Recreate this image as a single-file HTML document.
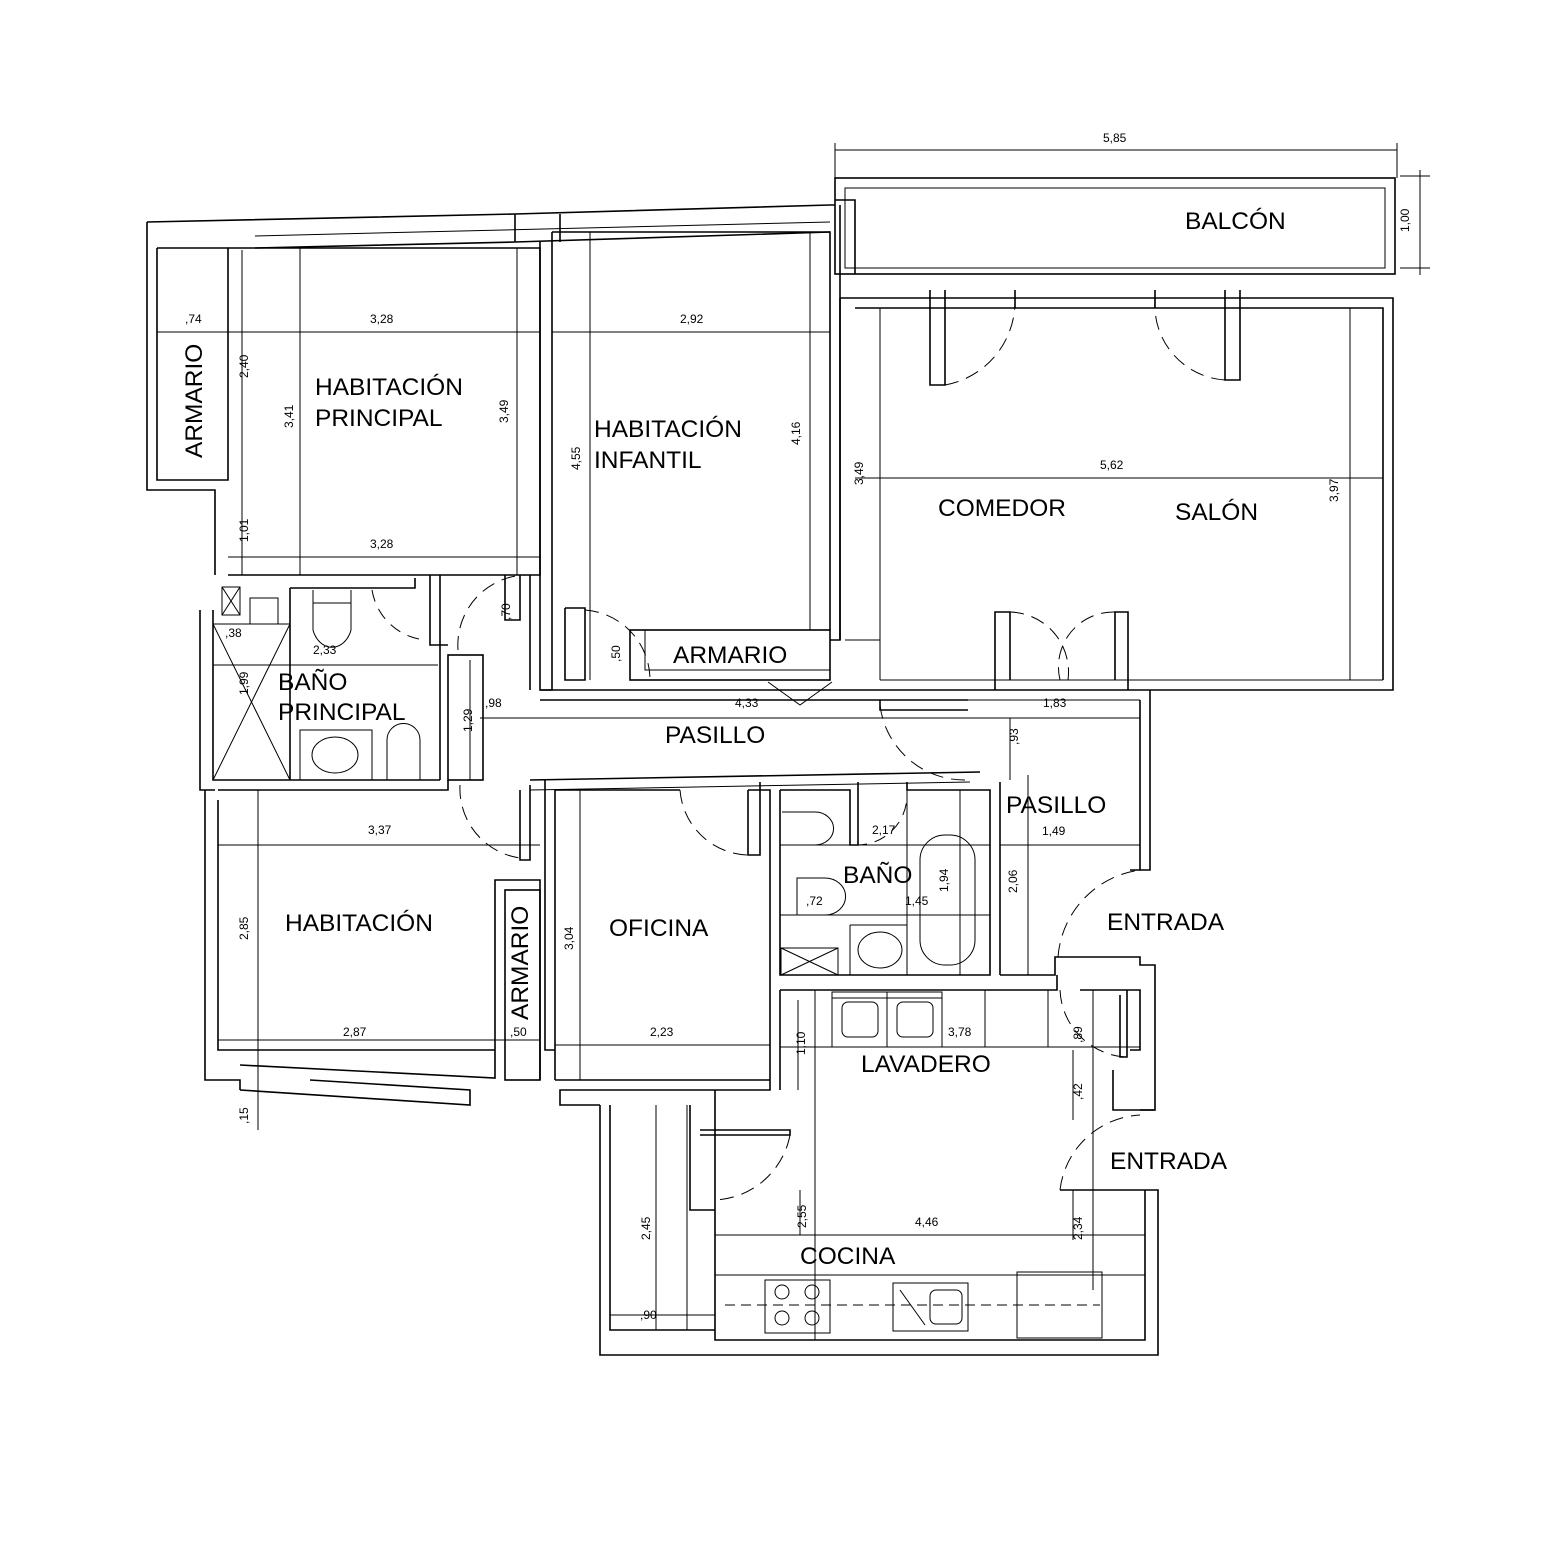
<!DOCTYPE html>
<html><head><meta charset="utf-8"><style>
html,body{margin:0;padding:0;background:#fff}
svg{display:block}
text{font-family:"Liberation Sans",sans-serif;fill:#000}
.L{font-size:24.5px}
.d{font-size:12px}
</style></head><body>
<svg width="1558" height="1558" viewBox="0 0 1558 1558" fill="none" stroke="#000" stroke-width="1.6">
<g stroke-width="1">
<line x1="835" y1="150" x2="1397" y2="150"/><line x1="835" y1="143" x2="835" y2="178"/><line x1="1397" y1="143" x2="1397" y2="178"/>
<line x1="1400" y1="176" x2="1430" y2="176"/><line x1="1400" y1="268" x2="1430" y2="268"/><line x1="1420" y1="170" x2="1420" y2="275"/>
</g>
<rect x="835" y="178" width="560" height="96"/>
<rect x="845" y="188" width="540" height="80" stroke-width="1"/>
<polyline points="835,200 855,200 855,274"/>
<polyline points="147,222 515,214 830,205 835,205"/>
<polyline points="255,248 515,242 830,232"/>
<line x1="255" y1="236" x2="830" y2="222" stroke-width="1"/>
<line x1="515" y1="214" x2="515" y2="242"/><line x1="560" y1="214" x2="560" y2="242"/>
<polyline points="147,222 147,490 215,490 215,575"/>
<polyline points="157,248 228,248 228,480 157,480 157,248"/>
<line x1="157" y1="332" x2="228" y2="332" stroke-width="1"/>
<polyline points="228,248 540,248 540,575 228,575"/>
<line x1="300" y1="248" x2="300" y2="575" stroke-width="1"/>
<line x1="517" y1="248" x2="517" y2="575" stroke-width="1"/>
<line x1="157" y1="332" x2="540" y2="332" stroke-width="1"/>
<line x1="228" y1="557" x2="540" y2="557" stroke-width="1"/>
<line x1="242" y1="250" x2="242" y2="575" stroke-width="1"/>
<polyline points="552,232 830,232 830,630"/>
<polyline points="540,242 540,690 552,690 552,232"/>
<line x1="590" y1="232" x2="590" y2="680" stroke-width="1"/>
<line x1="810" y1="232" x2="810" y2="630" stroke-width="1"/>
<line x1="552" y1="332" x2="830" y2="332" stroke-width="1"/>
<polyline points="840,205 840,640 830,640"/>
<rect x="630" y="630" width="200" height="50"/>
<rect x="645" y="630" width="185" height="40" stroke-width="1"/>
<polyline points="565,608 565,680 585,680 585,608 565,608"/>
<path d="M585 610 A70 70 0 0 1 650 680" stroke-dasharray="14 8" stroke-width="1"/>
<path d="M768 682 L800 705 L832 682" stroke-width="1"/>
<polyline points="840,298 1393,298 1393,690 1140,690"/>
<polyline points="855,308 1383,308 1383,680"/>
<line x1="840" y1="298" x2="840" y2="640"/>
<line x1="880" y1="308" x2="880" y2="680" stroke-width="1"/>
<line x1="1350" y1="308" x2="1350" y2="680" stroke-width="1"/>
<line x1="855" y1="478" x2="1383" y2="478" stroke-width="1"/>
<line x1="845" y1="640" x2="880" y2="640" stroke-width="1"/>
<line x1="880" y1="680" x2="1383" y2="680" stroke-width="1"/>
<polyline points="930,290 930,385 945,385 945,290"/>
<polyline points="1225,290 1225,380 1240,380 1240,290"/>
<line x1="1015" y1="290" x2="1015" y2="308"/><line x1="1155" y1="290" x2="1155" y2="308"/>
<path d="M945 385 A85 85 0 0 0 1015 300" stroke-dasharray="14 8" stroke-width="1"/>
<path d="M1225 380 A75 75 0 0 1 1155 300" stroke-dasharray="14 8" stroke-width="1"/>
<polyline points="995,690 995,612 1010,612 1010,680"/>
<polyline points="1128,690 1128,612 1115,612 1115,680"/>
<path d="M1010 612 A60 60 0 0 1 1068 680" stroke-dasharray="14 8" stroke-width="1"/>
<path d="M1115 612 A55 55 0 0 0 1060 680" stroke-dasharray="14 8" stroke-width="1"/>
<line x1="540" y1="690" x2="968" y2="690"/>
<line x1="540" y1="700" x2="968" y2="700"/>
<line x1="968" y1="690" x2="1140" y2="690"/>
<line x1="968" y1="700" x2="1140" y2="700" stroke-width="1"/>
<line x1="480" y1="718" x2="1140" y2="718" stroke-width="1"/>
<polyline points="530,780 980,772"/>
<line x1="530" y1="790" x2="970" y2="782" stroke-width="1"/>
<polyline points="880,700 880,710 968,710"/>
<path d="M880 705 A85 85 0 0 0 965 780" stroke-dasharray="14 8" stroke-width="1"/>
<rect x="448" y="655" width="35" height="125"/>
<polyline points="430,575 430,645 448,645"/>
<polyline points="440,575 440,780"/>
<polyline points="505,575 505,620 520,620 520,575"/>
<path d="M458 650 A70 70 0 0 1 530 575" stroke-dasharray="14 8" stroke-width="1"/>
<line x1="530" y1="575" x2="530" y2="690"/>
<polyline points="200,610 200,790 215,790"/>
<polyline points="213,610 213,780 440,780"/>
<polyline points="290,588 415,588 415,578"/>
<line x1="290" y1="588" x2="290" y2="780"/>
<rect x="222" y="587" width="18" height="28" stroke-width="1"/>
<path d="M222 587 L240 615 M240 587 L222 615" stroke-width="1"/>
<rect x="250" y="598" width="28" height="26" stroke-width="1"/>
<rect x="213" y="624" width="77" height="156" stroke-width="1"/>
<path d="M213 624 L290 780 M290 624 L213 780" stroke-width="1"/>
<line x1="213" y1="665" x2="438" y2="665" stroke-width="1"/>
<path d="M313 590 L313 630 A20 25 0 0 0 351 630 L351 590" stroke-width="1"/>
<path d="M313 603 L351 603" stroke-width="1"/>
<path d="M372 590 A60 60 0 0 0 425 640" stroke-dasharray="12 8" stroke-width="1"/>
<rect x="300" y="730" width="72" height="50" stroke-width="1"/>
<ellipse cx="335" cy="755" rx="23" ry="18" stroke-width="1"/>
<path d="M387 780 L387 740 A16 16 0 0 1 420 740 L420 780" stroke-width="1"/>
<polyline points="205,790 205,1080 240,1080 240,1090"/>
<polyline points="218,790 448,790 448,780"/>
<polyline points="218,800 218,1050 495,1050"/>
<line x1="258" y1="790" x2="258" y2="1130" stroke-width="1"/>
<line x1="218" y1="845" x2="540" y2="845" stroke-width="1"/>
<line x1="218" y1="1040" x2="540" y2="1040" stroke-width="1"/>
<polyline points="240,1065 495,1078 495,880 540,880 540,1080"/>
<polyline points="240,1090 470,1105 470,1090 310,1080"/>
<polyline points="520,790 520,860 530,860 530,785"/>
<path d="M460 785 A70 70 0 0 0 520 858" stroke-dasharray="14 8" stroke-width="1"/>
<rect x="505" y="890" width="35" height="190"/>
<polyline points="545,780 545,1050 555,1050"/>
<polyline points="555,790 680,790"/>
<polyline points="748,790 770,790 770,1090 560,1090 560,1105 600,1105"/>
<line x1="555" y1="790" x2="555" y2="1080"/>
<line x1="555" y1="1080" x2="770" y2="1080"/>
<line x1="580" y1="790" x2="580" y2="1080" stroke-width="1"/>
<line x1="555" y1="1045" x2="770" y2="1045" stroke-width="1"/>
<polyline points="748,790 748,855 760,855 760,782"/>
<path d="M680 790 A70 70 0 0 0 748 855" stroke-dasharray="14 8" stroke-width="1"/>
<polyline points="780,790 850,790 850,845 858,845 858,782"/>
<polyline points="907,782 907,790 990,790 990,975 780,975 780,790"/>
<line x1="1000" y1="782" x2="1000" y2="975"/>
<line x1="960" y1="790" x2="960" y2="975" stroke-width="1"/>
<line x1="780" y1="845" x2="990" y2="845" stroke-width="1"/>
<line x1="780" y1="915" x2="990" y2="915" stroke-width="1"/>
<line x1="850" y1="925" x2="850" y2="975" stroke-width="1"/>
<line x1="850" y1="925" x2="907" y2="925" stroke-width="1"/>
<line x1="907" y1="790" x2="907" y2="975" stroke-width="1"/>
<rect x="920" y="835" width="55" height="130" rx="25" stroke-width="1"/>
<path d="M782 812 L815 812 A18 16 0 0 1 815 845 L782 845" stroke-width="1"/>
<path d="M797 878 L825 878 A20 18 0 0 1 825 915 L797 915 Z" stroke-width="1"/>
<ellipse cx="880" cy="950" rx="22" ry="18" stroke-width="1"/>
<rect x="781" y="948" width="57" height="27" stroke-width="1"/>
<path d="M781 948 L838 975 M838 948 L781 975" stroke-width="1"/>
<path d="M855 845 A50 50 0 0 0 907 795" stroke-dasharray="12 8" stroke-width="1"/>
<polyline points="1150,690 1150,870 1140,870"/>
<polyline points="1140,700 1140,870 1130,870"/>
<line x1="1000" y1="845" x2="1140" y2="845" stroke-width="1"/>
<line x1="1028" y1="775" x2="1028" y2="975" stroke-width="1"/>
<polyline points="1000,975 1055,975 1055,957 1140,957 1140,965 1155,965 1155,1110 1140,1110"/>
<path d="M1058 957 A95 95 0 0 1 1140 870" stroke-dasharray="14 8" stroke-width="1"/>
<polyline points="780,990 1057,990 1057,975"/>
<polyline points="1080,990 1140,990 1140,1050 1130,1050"/>
<line x1="780" y1="990" x2="780" y2="1090"/>
<line x1="780" y1="1047" x2="1140" y2="1047" stroke-width="1"/>
<line x1="815" y1="990" x2="815" y2="1340" stroke-width="1"/>
<rect x="832" y="992" width="110" height="55" stroke-width="1"/>
<line x1="832" y1="998" x2="942" y2="998" stroke-width="1"/>
<line x1="887" y1="992" x2="887" y2="1047" stroke-width="1"/>
<rect x="842" y="1002" width="36" height="35" rx="6" stroke-width="1"/>
<rect x="897" y="1002" width="36" height="35" rx="6" stroke-width="1"/>
<line x1="985" y1="990" x2="985" y2="1047" stroke-width="1"/>
<line x1="1048" y1="990" x2="1048" y2="1047" stroke-width="1"/>
<line x1="1093" y1="990" x2="1093" y2="1290" stroke-width="1"/>
<polyline points="1127,990 1127,1057 1120,1057 1120,995"/>
<path d="M1060 990 A70 70 0 0 0 1125 1057" stroke-dasharray="14 8" stroke-width="1"/>
<polyline points="1113,1070 1113,1110 1155,1110"/>
<polyline points="1060,1190 1158,1190 1158,1355 600,1355 600,1105"/>
<path d="M1060 1190 A85 85 0 0 1 1140 1115" stroke-dasharray="14 8" stroke-width="1"/>
<polyline points="715,1090 715,1340 1145,1340 1145,1190"/>
<line x1="715" y1="1235" x2="1145" y2="1235" stroke-width="1"/>
<line x1="715" y1="1275" x2="1145" y2="1275" stroke-width="1"/>
<line x1="725" y1="1305" x2="1100" y2="1305" stroke-dasharray="10 6" stroke-width="1"/>
<rect x="765" y="1280" width="65" height="53" stroke-width="1"/>
<circle cx="782" cy="1292" r="7" stroke-width="1"/><circle cx="812" cy="1292" r="7" stroke-width="1"/>
<circle cx="782" cy="1318" r="7" stroke-width="1"/><circle cx="812" cy="1318" r="7" stroke-width="1"/>
<rect x="893" y="1283" width="75" height="48" stroke-width="1"/>
<rect x="930" y="1290" width="32" height="34" rx="6" stroke-width="1"/>
<line x1="900" y1="1290" x2="925" y2="1325" stroke-width="1"/>
<rect x="1017" y="1272" width="85" height="66" stroke-width="1"/>
<polyline points="610,1105 610,1330 715,1330"/>
<polyline points="690,1105 690,1210 715,1210"/>
<polyline points="700,1130 790,1130 790,1135 700,1135"/>
<path d="M790 1135 A80 80 0 0 1 715 1200" stroke-dasharray="14 8" stroke-width="1"/>
<line x1="610" y1="1315" x2="715" y2="1315" stroke-width="1"/>
<line x1="687" y1="1105" x2="687" y2="1330" stroke-width="1"/>
<g stroke-width="1">
<line x1="1010" y1="718" x2="1010" y2="780"/>
<line x1="470" y1="660" x2="470" y2="780"/>
<line x1="798" y1="1000" x2="798" y2="1090"/>
<line x1="800" y1="1190" x2="800" y2="1235"/>
<line x1="1073" y1="1050" x2="1073" y2="1120"/>
<line x1="1073" y1="1190" x2="1073" y2="1240"/>
<line x1="656" y1="1105" x2="656" y2="1330"/>
</g>
<g stroke="none">
<text class="L" x="1185" y="229">BALCÓN</text>
<text class="L" x="315" y="395">HABITACIÓN</text>
<text class="L" x="315" y="426">PRINCIPAL</text>
<text class="L" x="594" y="437">HABITACIÓN</text>
<text class="L" x="594" y="468">INFANTIL</text>
<text class="L" x="938" y="516">COMEDOR</text>
<text class="L" x="1175" y="520">SALÓN</text>
<text class="L" x="673" y="663">ARMARIO</text>
<text class="L" x="278" y="690">BAÑO</text>
<text class="L" x="278" y="720">PRINCIPAL</text>
<text class="L" x="665" y="743">PASILLO</text>
<text class="L" x="1006" y="813">PASILLO</text>
<text class="L" x="843" y="883">BAÑO</text>
<text class="L" x="1107" y="930">ENTRADA</text>
<text class="L" x="1110" y="1169">ENTRADA</text>
<text class="L" x="285" y="931">HABITACIÓN</text>
<text class="L" x="609" y="936">OFICINA</text>
<text class="L" x="861" y="1072">LAVADERO</text>
<text class="L" x="800" y="1264">COCINA</text>
<text class="L" transform="translate(202,458) rotate(-90)">ARMARIO</text>
<text class="L" transform="translate(528,1020) rotate(-90)">ARMARIO</text>
<text class="d" x="1103" y="142">5,85</text>
<text class="d" transform="translate(1409,232) rotate(-90)">1,00</text>
<text class="d" x="185" y="323">,74</text>
<text class="d" x="370" y="323">3,28</text>
<text class="d" x="680" y="323">2,92</text>
<text class="d" x="370" y="548">3,28</text>
<text class="d" x="1100" y="469">5,62</text>
<text class="d" x="225" y="637">,38</text>
<text class="d" x="313" y="654">2,33</text>
<text class="d" x="485" y="707">,98</text>
<text class="d" x="735" y="707">4,33</text>
<text class="d" x="1043" y="707">1,83</text>
<text class="d" x="1042" y="835">1,49</text>
<text class="d" x="872" y="834">2,17</text>
<text class="d" x="806" y="905">,72</text>
<text class="d" x="905" y="905">1,45</text>
<text class="d" x="368" y="834">3,37</text>
<text class="d" x="343" y="1036">2,87</text>
<text class="d" x="510" y="1036">,50</text>
<text class="d" x="650" y="1036">2,23</text>
<text class="d" x="948" y="1036">3,78</text>
<text class="d" x="915" y="1226">4,46</text>
<text class="d" x="640" y="1319">,90</text>
<text class="d" transform="translate(248,378) rotate(-90)">2,40</text>
<text class="d" transform="translate(293,428) rotate(-90)">3,41</text>
<text class="d" transform="translate(508,423) rotate(-90)">3,49</text>
<text class="d" transform="translate(248,542) rotate(-90)">1,01</text>
<text class="d" transform="translate(580,470) rotate(-90)">4,55</text>
<text class="d" transform="translate(800,445) rotate(-90)">4,16</text>
<text class="d" transform="translate(863,485) rotate(-90)">3,49</text>
<text class="d" transform="translate(1338,502) rotate(-90)">3,97</text>
<text class="d" transform="translate(510,620) rotate(-90)">,70</text>
<text class="d" transform="translate(620,662) rotate(-90)">,50</text>
<text class="d" transform="translate(248,695) rotate(-90)">1,99</text>
<text class="d" transform="translate(472,732) rotate(-90)">1,29</text>
<text class="d" transform="translate(1018,745) rotate(-90)">,93</text>
<text class="d" transform="translate(948,892) rotate(-90)">1,94</text>
<text class="d" transform="translate(1017,893) rotate(-90)">2,06</text>
<text class="d" transform="translate(248,940) rotate(-90)">2,85</text>
<text class="d" transform="translate(573,950) rotate(-90)">3,04</text>
<text class="d" transform="translate(805,1055) rotate(-90)">1,10</text>
<text class="d" transform="translate(1082,1043) rotate(-90)">,89</text>
<text class="d" transform="translate(1082,1100) rotate(-90)">,42</text>
<text class="d" transform="translate(806,1228) rotate(-90)">2,55</text>
<text class="d" transform="translate(1082,1240) rotate(-90)">2,34</text>
<text class="d" transform="translate(650,1240) rotate(-90)">2,45</text>
<text class="d" transform="translate(248,1124) rotate(-90)">,15</text>
</g>
</svg>
</body></html>
